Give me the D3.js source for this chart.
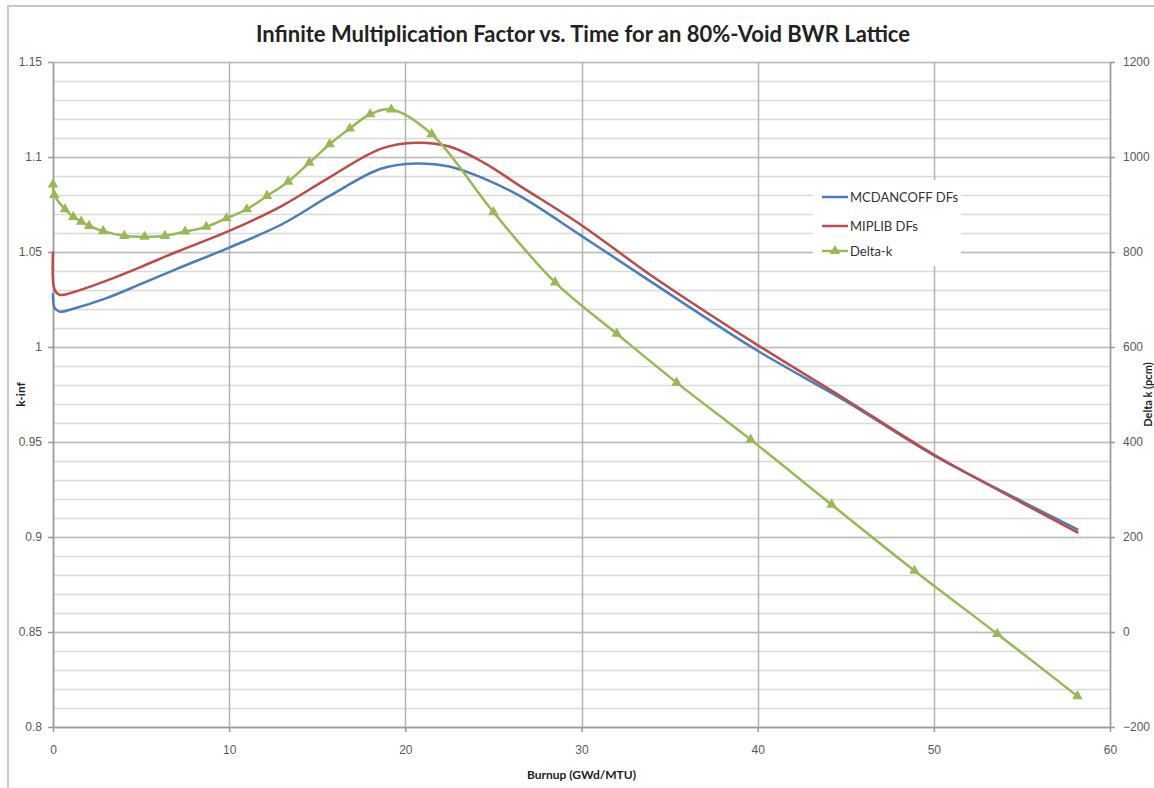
<!DOCTYPE html>
<html>
<head>
<meta charset="utf-8">
<script src="https://cdn.jsdelivr.net/npm/d3@7"></script>
<style>
  body { margin: 0; background: #fff; }
  svg { display: block; font-family: Lato, "Open Sans", sans-serif; }
  .tick text { fill: #595959; font-size: 12px; }
</style>
</head>
<body>
<script>
// k-inf curves (no markers)
var lineBurnup = [0, 0.1, 0.4, 1.1, 3, 5, 7, 10, 13, 15.7, 18.6, 20.6, 22.5, 24.5, 26.5, 30, 34, 40, 45, 50, 55, 58.2];
var mcdancoff  = [1.0283, 1.0205, 1.0186, 1.0200, 1.0256, 1.0332, 1.0410, 1.0523, 1.0646, 1.0795, 1.0938, 1.0966, 1.0950, 1.0885, 1.0795, 1.0585, 1.0340, 0.9980, 0.9715, 0.9430, 0.9188, 0.9038];
var miplib     = [1.0502, 1.0300, 1.0274, 1.0287, 1.0348, 1.0422, 1.0500, 1.0611, 1.0743, 1.0893, 1.1043, 1.1075, 1.1055, 1.0968, 1.0848, 1.0641, 1.0374, 1.0010, 0.9724, 0.9434, 0.9180, 0.9022];

// delta-k (pcm), right axis, with markers
var deltaBurnup = [0, 0.07, 0.68, 1.15, 1.6, 2.05, 2.85, 4.05, 5.2, 6.35, 7.5, 8.7, 9.85, 11, 12.15, 13.35, 14.55, 15.7, 16.85, 18, 19.2, 21.5, 25, 28.5, 32, 35.4, 39.6, 44.2, 48.9, 53.6, 58.15];
var deltaK      = [942, 920, 890, 874, 864, 855, 844, 834, 832, 834, 843, 853, 871, 890, 918, 948, 988, 1027, 1060, 1090, 1100, 1048, 884, 736, 628, 525, 405, 268, 129, -4, -135];

var xTicks = [0, 10, 20, 30, 40, 50, 60];
var kTicks = [0.8, 0.85, 0.9, 0.95, 1, 1.05, 1.1, 1.15];
var dTicks = [-200, 0, 200, 400, 600, 800, 1000, 1200];

var seriesNames = ['MCDANCOFF DFs', 'MIPLIB DFs', 'Delta-k'];
var colors = ['#4a7ebb', '#be4b48', '#98b954'];

var svg = d3.select('body').append('svg')
    .attr('width', 1154)
    .attr('height', 788);

svg.append('rect').attr('width', 1154).attr('height', 788).attr('fill', '#fff');

// outer chart frame
svg.append('path')
    .attr('d', 'M8,788V6H1154')
    .attr('fill', 'none')
    .attr('stroke', '#c8c8c8')
    .attr('stroke-width', 2);

var margin = { top: 62, right: 44, bottom: 61, left: 53 },
    width = 1154 - margin.left - margin.right,
    height = 788 - margin.top - margin.bottom,
    g = svg.append('g').attr('transform', 'translate(' + margin.left + ',' + margin.top + ')');

var x = d3.scaleLinear().domain([0, 60]).range([0, width]);
var y = d3.scaleLinear().domain([0.8, 1.15]).range([height, 0]);
var y2 = d3.scaleLinear().domain([-200, 1200]).range([height, 0]);

// minor horizontal grid every 0.01
var minor = d3.range(0, 36).map(function (i) { return 0.8 + i * 0.01; });
g.append('g').selectAll('line')
    .data(minor)
    .enter().append('line')
    .attr('x1', 0).attr('x2', width)
    .attr('y1', function (d) { return Math.round(y(d)) + 0.5; })
    .attr('y2', function (d) { return Math.round(y(d)) + 0.5; })
    .attr('stroke', '#dadada')
    .attr('stroke-width', 1.5);

g.append('g').selectAll('line')
    .data(kTicks)
    .enter().append('line')
    .attr('x1', 0).attr('x2', width)
    .attr('y1', function (d) { return Math.round(y(d)) + 0.5; })
    .attr('y2', function (d) { return Math.round(y(d)) + 0.5; })
    .attr('stroke', '#bdbdbd')
    .attr('stroke-width', 1.5);

g.append('g').selectAll('line')
    .data(xTicks)
    .enter().append('line')
    .attr('x1', function (d) { return Math.round(x(d)) + 0.5; })
    .attr('x2', function (d) { return Math.round(x(d)) + 0.5; })
    .attr('y1', 0).attr('y2', height)
    .attr('stroke', '#b4b4b4')
    .attr('stroke-width', 1.5);

// axes
function styleAxis(sel) {
    sel.select('.domain').attr('stroke', '#9a9a9a').attr('stroke-width', 1.5);
    sel.selectAll('.tick line').attr('stroke', '#9a9a9a').attr('stroke-width', 1.5);
}

g.append('g')
    .attr('transform', 'translate(0,' + height + ')')
    .call(d3.axisBottom(x).tickValues(xTicks).tickSize(5).tickSizeOuter(0).tickPadding(13))
    .call(styleAxis);

g.append('g')
    .call(d3.axisLeft(y).tickValues(kTicks).tickFormat(d3.format('')).tickSize(5).tickSizeOuter(0).tickPadding(6))
    .call(styleAxis);

g.append('g')
    .attr('transform', 'translate(' + width + ',0)')
    .call(d3.axisRight(y2).tickValues(dTicks).tickFormat(d3.format('d')).tickSize(5).tickSizeOuter(0).tickPadding(8))
    .call(styleAxis);

// series
var kLine = d3.line()
    .x(function (d) { return x(d[0]); })
    .y(function (d) { return y(d[1]); })
    .curve(d3.curveCatmullRom.alpha(0.5));

var dLine = d3.line()
    .x(function (d) { return x(d[0]); })
    .y(function (d) { return y2(d[1]); })
    .curve(d3.curveCatmullRom.alpha(0.5));

var blue = lineBurnup.map(function (b, i) { return [b, mcdancoff[i]]; });
var red = lineBurnup.map(function (b, i) { return [b, miplib[i]]; });
var green = deltaBurnup.map(function (b, i) { return [b, deltaK[i]]; });

g.append('path').datum(blue)
    .attr('d', kLine).attr('fill', 'none')
    .attr('stroke', colors[0]).attr('stroke-width', 2.5);

g.append('path').datum(red)
    .attr('d', kLine).attr('fill', 'none')
    .attr('stroke', colors[1]).attr('stroke-width', 2.5);

g.append('path').datum(green)
    .attr('d', dLine).attr('fill', 'none')
    .attr('stroke', colors[2]).attr('stroke-width', 2.5);

var tri = d3.symbol().type(d3.symbolTriangle).size(48);

g.append('g').selectAll('path')
    .data(green)
    .enter().append('path')
    .attr('d', tri)
    .attr('transform', function (d) { return 'translate(' + x(d[0]) + ',' + y2(d[1]) + ')'; })
    .attr('fill', colors[2]);

// legend
var legend = g.append('g').attr('transform', 'translate(760,118)');
legend.append('rect')
    .attr('width', 148).attr('height', 86)
    .attr('fill', '#fff');

var item = legend.selectAll('g.item')
    .data(seriesNames)
    .enter().append('g')
    .attr('class', 'item')
    .attr('transform', function (d, i) { return 'translate(0,' + [17, 46, 71][i] + ')'; });

item.append('line')
    .attr('x1', 9).attr('x2', 35)
    .attr('stroke', function (d, i) { return colors[i]; })
    .attr('stroke-width', 2.5);

item.filter(function (d, i) { return i === 2; })
    .append('path')
    .attr('d', tri)
    .attr('transform', 'translate(22,0)')
    .attr('fill', colors[2]);

item.append('text')
    .attr('x', 37)
    .attr('dy', '0.35em')
    .attr('fill', '#333')
    .style('font-size', '13px')
    .text(function (d) { return d; });

// titles, axis titles centred on the plot area
var midY = margin.top + height / 2;

svg.append('text')
    .attr('x', 583).attr('y', 42)
    .attr('text-anchor', 'middle')
    .attr('fill', '#222')
    .style('font-size', '22px')
    .style('font-weight', 'bold')
    .text('Infinite Multiplication Factor vs. Time for an 80%-Void BWR Lattice');

svg.append('text')
    .attr('x', margin.left + width / 2).attr('y', 779)
    .attr('text-anchor', 'middle')
    .attr('fill', '#222')
    .style('font-size', '12px')
    .style('font-weight', 'bold')
    .text('Burnup (GWd/MTU)');

svg.append('text')
    .attr('transform', 'translate(25,' + midY + ') rotate(-90)')
    .attr('text-anchor', 'middle')
    .attr('fill', '#222')
    .style('font-size', '12px')
    .style('font-weight', 'bold')
    .text('k-inf');

svg.append('text')
    .attr('transform', 'translate(1152,' + midY + ') rotate(-90)')
    .attr('text-anchor', 'middle')
    .attr('fill', '#222')
    .style('font-size', '11px')
    .style('font-weight', 'bold')
    .text('Delta k (pcm)');
</script>
</body>
</html>
